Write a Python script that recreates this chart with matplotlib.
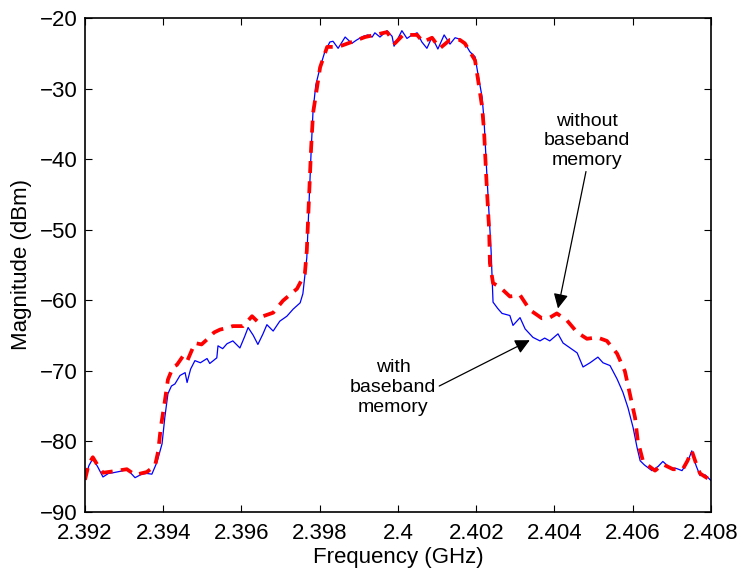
import matplotlib
matplotlib.use("Agg")
import matplotlib.pyplot as plt
import numpy as np

plt.rcParams['font.family'] = ['Liberation Sans', 'DejaVu Sans']

# Output spectrum, with baseband memory compensation (solid blue)
freq_with = [
    2.39200, 2.39210, 2.39220, 2.39232, 2.39246, 2.39260, 2.39272, 2.39290,
    2.39307, 2.39318, 2.39328, 2.39345, 2.39358, 2.39371, 2.39384, 2.39397,
    2.39404, 2.39412, 2.39421, 2.39430, 2.39443, 2.39456, 2.39461, 2.39470,
    2.39481, 2.39495, 2.39512, 2.39519, 2.39537, 2.39540, 2.39552, 2.39563,
    2.39578, 2.39596, 2.39608, 2.39617, 2.39630, 2.39642, 2.39655, 2.39665,
    2.39681, 2.39698, 2.39716, 2.39732, 2.39750, 2.39757, 2.39767, 2.39773,
    2.39778, 2.39783, 2.39790, 2.39801, 2.39813, 2.39826, 2.39834, 2.39847,
    2.39865, 2.39882, 2.39895, 2.39911, 2.39923, 2.39934, 2.39941, 2.39954,
    2.39972, 2.39985, 2.39990, 2.40010, 2.40023, 2.40036, 2.40049, 2.40061,
    2.40074, 2.40087, 2.40102, 2.40118, 2.40133, 2.40146, 2.40158, 2.40171,
    2.40184, 2.40197, 2.40204, 2.40215, 2.40220, 2.40227, 2.40233, 2.40238,
    2.40240, 2.40243, 2.40255, 2.40266, 2.40286, 2.40294, 2.40312, 2.40325,
    2.40345, 2.40363, 2.40375, 2.40388, 2.40409, 2.40422, 2.40440, 2.40458,
    2.40473, 2.40491, 2.40511, 2.40524, 2.40542, 2.40560, 2.40575, 2.40588,
    2.40601, 2.40611, 2.40619, 2.40630, 2.40649, 2.40665, 2.40677, 2.40695,
    2.40712, 2.40726, 2.40740, 2.40751, 2.40762, 2.40772, 2.40785, 2.40800,
]
mag_with = [
    -85.4, -83.5, -82.5, -83.6, -85.1, -84.6, -84.5, -84.3,
    -84.0, -84.6, -85.2, -84.7, -84.6, -84.7, -83.0, -80.4,
    -76.7, -73.3, -72.2, -71.9, -70.7, -70.3, -71.7, -69.8,
    -68.6, -68.9, -68.3, -69.0, -68.2, -66.5, -66.9, -66.2,
    -65.8, -66.8, -65.2, -63.9, -65.0, -66.3, -64.8, -63.5,
    -64.4, -63.0, -62.3, -61.3, -60.4, -59.1, -54.0, -46.0,
    -39.0, -33.1, -29.5, -27.0, -24.8, -23.4, -23.3, -24.3,
    -22.7, -23.6, -23.1, -22.6, -22.4, -22.7, -22.1, -22.7,
    -21.8, -22.6, -24.0, -21.8, -22.9, -22.4, -22.1, -23.4,
    -24.3, -22.7, -24.4, -22.4, -23.7, -22.8, -23.0, -23.6,
    -24.8, -25.5, -27.8, -31.2, -34.5, -42.0, -48.0, -53.0,
    -55.8, -60.3, -61.2, -61.9, -62.2, -63.6, -62.5, -64.1,
    -65.3, -65.8, -65.4, -65.8, -64.8, -66.1, -66.8, -67.5,
    -69.5, -68.9, -68.1, -68.9, -69.3, -71.2, -73.1, -75.3,
    -78.1, -80.9, -82.8, -83.4, -84.2, -83.6, -82.9, -83.8,
    -83.9, -84.2, -83.0, -81.4, -83.5, -84.9, -84.8, -85.6,
]

# Output spectrum, without baseband memory compensation (dashed red)
freq_without = [
    2.39200, 2.39210, 2.39220, 2.39232, 2.39246, 2.39272, 2.39307, 2.39328,
    2.39358, 2.39379, 2.39387, 2.39394, 2.39404, 2.39412, 2.39425, 2.39435,
    2.39450, 2.39461, 2.39481, 2.39498, 2.39512, 2.39530, 2.39545, 2.39560,
    2.39578, 2.39604, 2.39627, 2.39640, 2.39655, 2.39681, 2.39706, 2.39742,
    2.39762, 2.39767, 2.39773, 2.39778, 2.39783, 2.39801, 2.39819, 2.39847,
    2.39882, 2.39916, 2.39941, 2.39972, 2.39992, 2.40013, 2.40049, 2.40064,
    2.40087, 2.40107, 2.40133, 2.40158, 2.40171, 2.40197, 2.40204, 2.40215,
    2.40220, 2.40227, 2.40233, 2.40235, 2.40243, 2.40261, 2.40286, 2.40312,
    2.40337, 2.40368, 2.40388, 2.40406, 2.40432, 2.40458, 2.40483, 2.40509,
    2.40534, 2.40560, 2.40580, 2.40593, 2.40606, 2.40613, 2.40626, 2.40640,
    2.40657, 2.40677, 2.40703, 2.40728, 2.40740, 2.40751, 2.40762, 2.40772,
    2.40800,
]
mag_without = [
    -85.5, -83.2, -82.3, -83.4, -84.5, -84.3, -84.0, -84.8,
    -84.4, -83.5, -81.5, -78.0, -74.4, -71.3, -69.5, -69.2,
    -68.0, -68.7, -66.1, -66.3, -65.6, -64.6, -64.2, -64.0,
    -63.7, -63.7, -62.3, -63.0, -62.3, -61.8, -60.1, -58.4,
    -56.3, -53.0, -45.0, -38.5, -33.5, -27.0, -24.1, -24.1,
    -23.4, -22.7, -22.4, -22.0, -23.6, -22.4, -22.4, -23.4,
    -22.8, -24.3, -23.1, -23.1, -23.6, -26.0, -28.5, -32.6,
    -36.0, -44.0, -50.0, -54.8, -57.6, -58.2, -59.5, -59.3,
    -61.4, -62.6, -62.5, -61.9, -62.9, -64.6, -65.5, -65.3,
    -65.8, -67.6, -70.1, -73.4, -76.7, -80.0, -82.8, -83.5,
    -84.2, -83.3, -84.0, -84.0, -82.8, -81.4, -83.2, -84.6,
    -85.6,
]

x_ticks = [2.392, 2.394, 2.396, 2.398, 2.4, 2.402, 2.404, 2.406, 2.408]
x_tick_labels = ['2.392', '2.394', '2.396', '2.398', '2.4', '2.402', '2.404', '2.406', '2.408']
y_ticks = [-90, -80, -70, -60, -50, -40, -30, -20]

fig = plt.figure(figsize=(7.44, 5.75), dpi=100)
ax = fig.add_axes([0.1142, 0.1104, 0.8414, 0.8583])

ax.plot(freq_with, mag_with, color=(0, 0, 1), lw=0.9)
ax.plot(freq_without, mag_without, color=(1, 0, 0), lw=2.7,
        dashes=(3.2, 2.2), dash_capstyle='butt')

ax.set_xlim(2.392, 2.408)
ax.set_ylim(-90, -20)
ax.set_xticks(x_ticks)
ax.set_xticklabels(x_tick_labels)
ax.set_yticks(y_ticks)
ax.tick_params(direction='in', length=5, width=0.8, top=True, right=True,
               labelsize=16)
ax.tick_params(axis='x', pad=8)
ax.tick_params(axis='y', pad=5)
for sp in ax.spines.values():
    sp.set_linewidth(1.2)

ax.set_xlabel('Frequency (GHz)', fontsize=16)
ax.set_ylabel('Magnitude (dBm)', fontsize=16)
ax.xaxis.set_label_coords(0.5, -0.071)
ax.yaxis.set_label_coords(-0.085, 0.5)

ax.annotate('without\nbaseband\nmemory', xy=(2.40409, -61.2),
            xytext=(2.40482, -37.4), ha='center', va='center',
            fontsize=14, linespacing=1.2,
            arrowprops=dict(arrowstyle='-|>', color='black', lw=0.9,
                            mutation_scale=22, shrinkA=0, shrinkB=0,
                            relpos=(0.5, 0.0)))
ax.annotate('with\nbaseband\nmemory', xy=(2.40337, -65.7),
            xytext=(2.39988, -72.4), ha='center', va='center',
            fontsize=14, linespacing=1.2,
            arrowprops=dict(arrowstyle='-|>', color='black', lw=0.9,
                            mutation_scale=22, shrinkA=0, shrinkB=0,
                            relpos=(1.0, 0.5)))

fig.savefig('out.png', dpi=100)
